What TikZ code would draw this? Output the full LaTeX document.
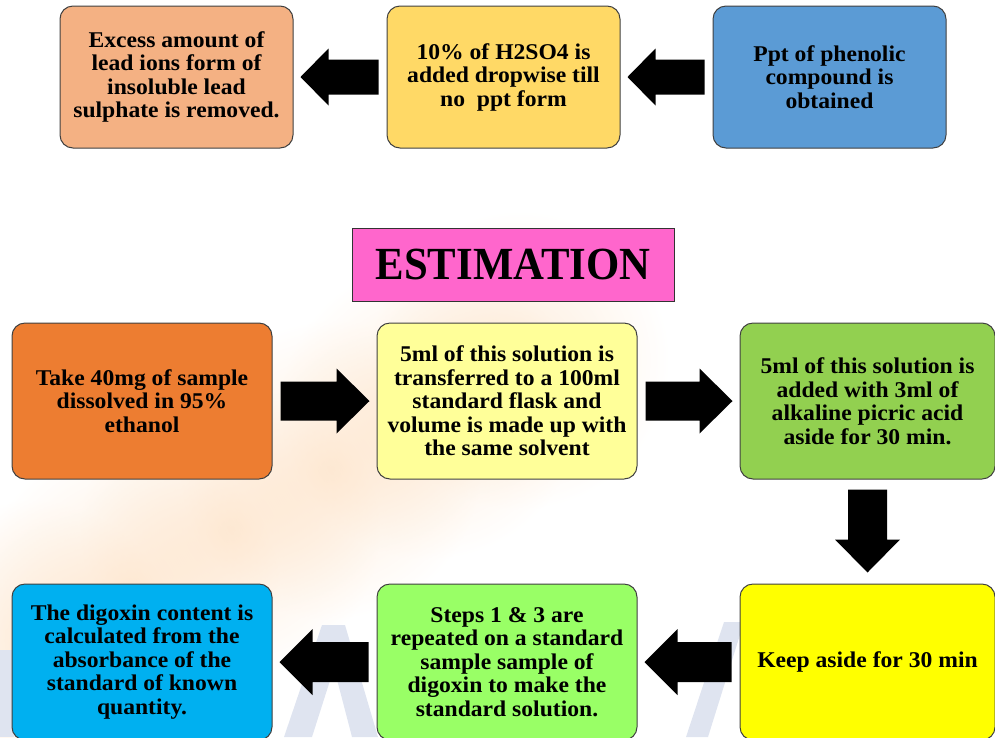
\documentclass[tikz,border=0pt]{standalone}
\usepackage{fontspec}
\setmainfont{Liberation Serif}[FakeStretch=1.05]
\newfontfamily\titlefont{Liberation Serif}[FakeStretch=0.93]
\usetikzlibrary{calc,fadings}

\definecolor{boxline}{HTML}{404040}
\definecolor{cSalmon}{HTML}{F4B183}
\definecolor{cGold}{HTML}{FFD966}
\definecolor{cSteel}{HTML}{5B9BD5}
\definecolor{cPink}{HTML}{FF66CC}
\definecolor{cOrange}{HTML}{ED7D31}
\definecolor{cCream}{HTML}{FFFF99}
\definecolor{cLeaf}{HTML}{92D050}
\definecolor{cSky}{HTML}{00B0F0}
\definecolor{cLime}{HTML}{99FF66}
\definecolor{cYellow}{HTML}{FFFF00}
\definecolor{markBlue}{HTML}{DFE4F0}
\definecolor{markOrange}{HTML}{FBC58E}

\tikzfading[name=softblob, inner color=transparent!0, outer color=transparent!100]

% horizontal block arrow from node anchor #1 to node anchor #2
% #3 shaft half width, #4 head half width, #5 head length
\newcommand\hfat[5]{%
  \fill[black] let \p1=(#1), \p2=(#2), \n1={sign(\x2-\x1)} in
    ({\x1+8pt*\n1},{\y1+#3}) -- ({\x2-(7pt+#5)*\n1},{\y1+#3})
    -- ({\x2-(7pt+#5)*\n1},{\y1+#4}) -- ({\x2-7pt*\n1},\y1)
    -- ({\x2-(7pt+#5)*\n1},{\y1-#4}) -- ({\x2-(7pt+#5)*\n1},{\y1-#3})
    -- ({\x1+8pt*\n1},{\y1-#3}) -- cycle;}

\begin{document}
\begin{tikzpicture}[x=1pt,y=-1pt,
  stepbox/.style={draw=boxline, line width=1pt, rounded corners=13pt,
    minimum width=260pt, minimum height=156pt, inner sep=0pt,
    align=center, text=black,
    font=\bfseries\fontsize{22.5}{23.5}\selectfont},
  topbox/.style={stepbox, minimum width=233pt, minimum height=142pt},
  titlebox/.style={draw=black!80, line width=0.8pt, fill=cPink,
    minimum width=322pt, minimum height=73pt, inner sep=0pt,
    font=\titlefont\bfseries\fontsize{46}{50}\selectfont},
  blob/.style={fill=markOrange, path fading=softblob, fit fading=true,
    opacity=0.3}]

\useasboundingbox (0,0) rectangle (995,737);
\clip (0,0) rectangle (995,737);

% faint watermark behind the chart: a soft peach sweep and pale letters
\foreach \cx/\cy in {30/650, 130/590, 230/530, 330/470, 430/410, 520/360}
  \fill[blob] (\cx,\cy) circle [radius=150pt];
\fill[markBlue] (0,650) rectangle (14,737);
\fill[markBlue] (284,737) -- (322,625) -- (345,625) -- (378,737) -- (352,737)
  -- (334,668) -- (312,737) -- cycle;
\fill[markBlue] (686,737) -- (724,622) -- (744,622) -- (708,737) -- cycle;

% top row
\node[topbox, fill=cSalmon] (lead) at (176.5,77)
  {Excess amount of\\lead ions form of\\insoluble lead\\sulphate is removed.};
\node[topbox, fill=cGold] (acid) at (503.5,77)
  {10\% of H2SO4 is\\added dropwise till\\no\ \ ppt form};
\node[topbox, fill=cSteel] (ppt) at (829.5,77)
  {Ppt of phenolic\\compound is\\obtained};

\node[titlebox] (title) at (513,264.5) {ESTIMATION};

% middle row
\node[stepbox, fill=cOrange] (take) at (142,401)
  {Take 40mg of sample\\dissolved in 95\%\\ethanol};
\node[stepbox, fill=cCream] (transfer) at (507,401)
  {5ml of this solution is\\transferred to a 100ml\\standard flask and\\volume is made up with\\the same solvent};
\node[stepbox, fill=cLeaf, minimum width=255pt] (picric) at (867.5,401)
  {5ml of this solution is\\added with 3ml of\\alkaline picric acid\\aside for 30 min.};

% bottom row
\node[stepbox, fill=cSky] (result) at (142,662)
  {The digoxin content is\\calculated from the\\absorbance of the\\standard of known\\quantity.};
\node[stepbox, fill=cLime] (repeat) at (507,662)
  {Steps 1 \& 3 are\\repeated on a standard\\sample sample of\\digoxin to make the\\standard solution.};
\node[stepbox, fill=cYellow, minimum width=255pt] (keep) at (867.5,662)
  {Keep aside for 30 min};

% block arrows
\hfat{acid.west}{lead.east}{17.5pt}{28.5pt}{28pt}
\hfat{ppt.west}{acid.east}{17.5pt}{28.5pt}{28pt}
\hfat{take.east}{transfer.west}{19.5pt}{32.5pt}{33pt}
\hfat{transfer.east}{picric.west}{19.5pt}{32.5pt}{33pt}
\hfat{keep.west}{repeat.east}{20pt}{33pt}{33pt}
\hfat{repeat.west}{result.east}{20pt}{33pt}{33pt}
\fill[black] let \p1=(picric.south), \p2=(keep.north) in
  ({\x1-19.5pt},{\y1-10pt}) -- ({\x1-19.5pt},{\y2+44pt})
  -- ({\x1-32.5pt},{\y2+44pt}) -- (\x1,{\y2+11pt})
  -- ({\x1+32.5pt},{\y2+44pt}) -- ({\x1+19.5pt},{\y2+44pt})
  -- ({\x1+19.5pt},{\y1-10pt}) -- cycle;
\end{tikzpicture}
\end{document}
